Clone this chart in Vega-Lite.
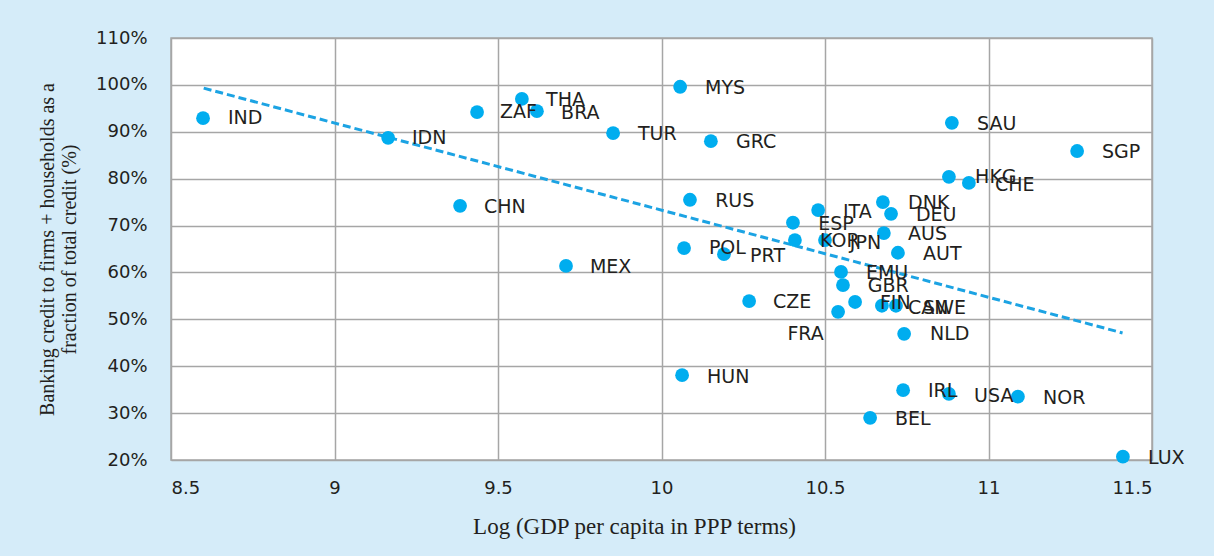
{
  "$schema": "https://vega.github.io/schema/vega-lite/v6.json",
  "width": 981,
  "height": 422,
  "autosize": "none",
  "padding": {"left": 171, "top": 38, "right": 62, "bottom": 96},
  "background": "#d5ecf9",
  "config": {
    "view": {"fill": "white", "stroke": "#a6a6a6", "strokeWidth": 1.5},
    "axis": {
      "gridColor": "#a6a6a6", "gridWidth": 1.5, "gridOpacity": 1,
      "domain": false, "ticks": false,
      "labelFont": "DejaVu Sans", "labelFontSize": 18, "labelColor": "#231f20",
      "titleFont": "Liberation Serif", "titleFontWeight": "normal", "titleColor": "#231f20"
    }
  },
  "datasets": {
    "pts": [
      {"c": "IND", "x": 8.598, "y": 92.9, "lx": 8.674, "ly": 92.9},
      {"c": "IDN", "x": 9.164, "y": 88.7, "lx": 9.237, "ly": 88.7},
      {"c": "CHN", "x": 9.384, "y": 74.2, "lx": 9.457, "ly": 74.0},
      {"c": "ZAF", "x": 9.436, "y": 94.2, "lx": 9.506, "ly": 94.2},
      {"c": "THA", "x": 9.573, "y": 97.0, "lx": 9.647, "ly": 96.8},
      {"c": "BRA", "x": 9.619, "y": 94.4, "lx": 9.693, "ly": 94.0},
      {"c": "MEX", "x": 9.708, "y": 61.4, "lx": 9.781, "ly": 61.2},
      {"c": "TUR", "x": 9.852, "y": 89.7, "lx": 9.928, "ly": 89.5},
      {"c": "MYS", "x": 10.057, "y": 99.6, "lx": 10.133, "ly": 99.3},
      {"c": "HUN", "x": 10.063, "y": 38.1, "lx": 10.139, "ly": 37.7},
      {"c": "GRC", "x": 10.151, "y": 88.0, "lx": 10.228, "ly": 87.8},
      {"c": "RUS", "x": 10.087, "y": 75.5, "lx": 10.164, "ly": 75.2},
      {"c": "POL", "x": 10.069, "y": 65.2, "lx": 10.145, "ly": 65.2},
      {"c": "PRT", "x": 10.191, "y": 63.9, "lx": 10.271, "ly": 63.5},
      {"c": "CZE", "x": 10.268, "y": 53.9, "lx": 10.341, "ly": 53.7},
      {"c": "ESP", "x": 10.402, "y": 70.6, "lx": 10.479, "ly": 70.3},
      {"c": "KOR", "x": 10.408, "y": 66.9, "lx": 10.485, "ly": 66.7},
      {"c": "JPN", "x": 10.5, "y": 66.9, "lx": 10.576, "ly": 66.3},
      {"c": "ITA", "x": 10.479, "y": 73.3, "lx": 10.555, "ly": 72.9},
      {"c": "DNK", "x": 10.677, "y": 75.0, "lx": 10.754, "ly": 74.8},
      {"c": "DEU", "x": 10.702, "y": 72.5, "lx": 10.778, "ly": 72.3},
      {"c": "AUS", "x": 10.68, "y": 68.4, "lx": 10.754, "ly": 68.2},
      {"c": "AUT", "x": 10.723, "y": 64.2, "lx": 10.8, "ly": 63.9},
      {"c": "EMU", "x": 10.549, "y": 60.1, "lx": 10.625, "ly": 59.9},
      {"c": "GBR", "x": 10.555, "y": 57.3, "lx": 10.631, "ly": 57.1},
      {"c": "FIN", "x": 10.592, "y": 53.7, "lx": 10.668, "ly": 53.5},
      {"c": "CAN", "x": 10.674, "y": 52.9, "lx": 10.754, "ly": 52.4},
      {"c": "SWE", "x": 10.717, "y": 52.9, "lx": 10.8, "ly": 52.4},
      {"c": "FRA", "x": 10.54, "y": 51.6, "lx": 10.385, "ly": 46.9},
      {"c": "NLD", "x": 10.742, "y": 46.9, "lx": 10.821, "ly": 46.9},
      {"c": "HKG", "x": 10.879, "y": 80.4, "lx": 10.959, "ly": 80.4},
      {"c": "CHE", "x": 10.94, "y": 79.1, "lx": 11.02, "ly": 78.7},
      {"c": "SAU", "x": 10.888, "y": 91.9, "lx": 10.965, "ly": 91.7},
      {"c": "SGP", "x": 11.271, "y": 85.9, "lx": 11.347, "ly": 85.7},
      {"c": "IRL", "x": 10.739, "y": 34.9, "lx": 10.815, "ly": 34.7},
      {"c": "USA", "x": 10.879, "y": 34.1, "lx": 10.956, "ly": 33.7},
      {"c": "NOR", "x": 11.09, "y": 33.5, "lx": 11.167, "ly": 33.2},
      {"c": "BEL", "x": 10.638, "y": 29.0, "lx": 10.714, "ly": 28.8},
      {"c": "LUX", "x": 11.411, "y": 20.7, "lx": 11.488, "ly": 20.4}
    ],
    "trend": [
      {"x": 8.6, "y": 99.3},
      {"x": 11.41, "y": 47.1}
    ]
  },
  "layer": [
    {
      "data": {"name": "trend"},
      "mark": {"type": "line", "color": "#1ca3e3", "strokeWidth": 3, "strokeDash": [8, 4]},
      "encoding": {
        "x": {"field": "x", "type": "quantitative",
          "scale": {"domain": [8.5, 11.5], "nice": false, "zero": false},
          "axis": {"values": [8.5, 9, 9.5, 10, 10.5, 11, 11.5], "format": "~g", "labelPadding": 19,
            "title": "Log (GDP per capita in PPP terms)", "titleFontSize": 23, "titlePadding": 18, "titleX": 463}},
        "y": {"field": "y", "type": "quantitative",
          "scale": {"domain": [20, 110], "nice": false, "zero": false},
          "axis": {"values": [20, 30, 40, 50, 60, 70, 80, 90, 100, 110], "labelExpr": "datum.value + '%'", "labelPadding": 24,
            "title": ["Banking credit to firms + households as a", "fraction of total credit (%)"], "titleFontSize": 20, "titlePadding": 16, "titleLineHeight": 22}}
      }
    },
    {
      "data": {"name": "pts"},
      "mark": {"type": "circle", "size": 190, "color": "#00adef", "opacity": 1},
      "encoding": {
        "x": {"field": "x", "type": "quantitative"},
        "y": {"field": "y", "type": "quantitative"}
      }
    },
    {
      "data": {"name": "pts"},
      "mark": {"type": "text", "align": "left", "baseline": "middle", "font": "DejaVu Sans", "fontSize": 19, "color": "#231f20"},
      "encoding": {
        "x": {"field": "lx", "type": "quantitative"},
        "y": {"field": "ly", "type": "quantitative"},
        "text": {"field": "c"}
      }
    }
  ]
}
